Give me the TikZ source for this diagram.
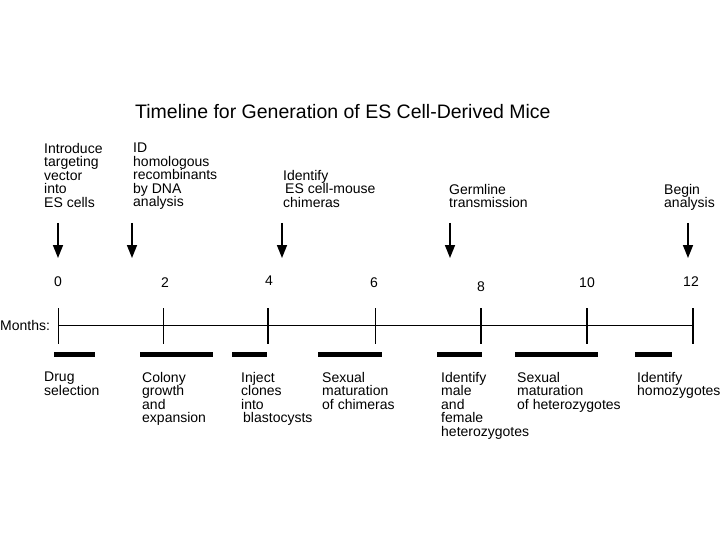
\documentclass[tikz,border=0pt]{standalone}
\usepackage{fontspec}
\setmainfont{Liberation Sans}
\usetikzlibrary{arrows.meta}
\begin{document}
\begin{tikzpicture}[x=1pt,y=-1pt,
  lbl/.style={font=\fontsize{14}{13.5}\selectfont, align=left, anchor=north west, inner sep=0pt},
  num/.style={font=\fontsize{14}{14}\selectfont, inner sep=0pt},
  arr/.style={line width=1.6pt, -{Triangle[width=10pt,length=13pt]}},
  thintick/.style={line width=1pt},
  thicktick/.style={line width=2.2pt},
  bar/.style={line width=5pt}]
\useasboundingbox[fill=white] (0,0) rectangle (720,540);
% title
\node[font=\fontsize{19.5}{22}\selectfont, anchor=base west, inner sep=0pt] (title) at (135,119)
  {Timeline for Generation of ES Cell-Derived Mice};
% top labels
\node[lbl] (t1) at (44,143) {Introduce\\targeting\\vector\\into\\ES cells};
\node[lbl] (t2) at (133,143) {ID\\homologous\\recombinants\\by DNA\\analysis};
\node[lbl] (t3) at (283,170) {Identify\\\hspace{2pt}ES cell-mouse\\chimeras};
\node[lbl] (t4) at (449,184) {Germline\\transmission};
\node[lbl] (t5) at (664,184) {Begin\\analysis};
% arrows
\coordinate (a1s) at (58,223); \coordinate (a1e) at (58,258);
\coordinate (a2s) at (132,223); \coordinate (a2e) at (132,258);
\coordinate (a3s) at (282,223); \coordinate (a3e) at (282,258);
\coordinate (a4s) at (450,223); \coordinate (a4e) at (450,258);
\coordinate (a5s) at (688,223); \coordinate (a5e) at (688,258);
\draw[arr] (a1s) -- (a1e);
\draw[arr] (a2s) -- (a2e);
\draw[arr] (a3s) -- (a3e);
\draw[arr] (a4s) -- (a4e);
\draw[arr] (a5s) -- (a5e);
% numbers
\node[num] (n0) at (58,282) {0};
\node[num] (n2) at (165,283) {2};
\node[num] (n4) at (269,281) {4};
\node[num] (n6) at (374,283) {6};
\node[num] (n8) at (481,287) {8};
\node[num] (n10) at (587,283) {10};
\node[num] (n12) at (691,282) {12};
% axis
\node[font=\fontsize{14}{14}\selectfont, anchor=west, inner sep=0pt] (months) at (0,325) {Months:};
\coordinate (L) at (58,325); \coordinate (R) at (693,325);
\draw[line width=1pt] (L) -- (R);
\draw[thintick] (58,308) -- (58,344);
\draw[thintick] (163,308) -- (163,344);
\draw[thicktick] (268,308) -- (268,344);
\draw[thintick] (375,308) -- (375,344);
\draw[thicktick] (481,308) -- (481,344);
\draw[thicktick] (587,308) -- (587,344);
\draw[thicktick] (693,308) -- (693,344);
% bars
\draw[bar] (54,354.5) -- (95,354.5);
\draw[bar] (140,354.5) -- (213,354.5);
\draw[bar] (232,354.5) -- (267,354.5);
\draw[bar] (318,354.5) -- (382,354.5);
\draw[bar] (437,354.5) -- (482,354.5);
\draw[bar] (515,354.5) -- (598,354.5);
\draw[bar] (635,354.5) -- (672,354.5);
% bottom labels
\node[lbl] (b1) at (44,372) {Drug\\selection};
\node[lbl] (b2) at (142,372) {Colony\\growth\\and\\expansion};
\node[lbl] (b3) at (241,372) {Inject\\clones\\into\\\hspace{2pt}blastocysts};
\node[lbl] (b4) at (322,372) {Sexual\\maturation\\of chimeras};
\node[lbl] (b5) at (441,372) {Identify\\male\\and\\female\\heterozygotes};
\node[lbl] (b6) at (517,372) {Sexual\\maturation\\of heterozygotes};
\node[lbl] (b7) at (637,372) {Identify\\homozygotes};
\end{tikzpicture}
\end{document}
